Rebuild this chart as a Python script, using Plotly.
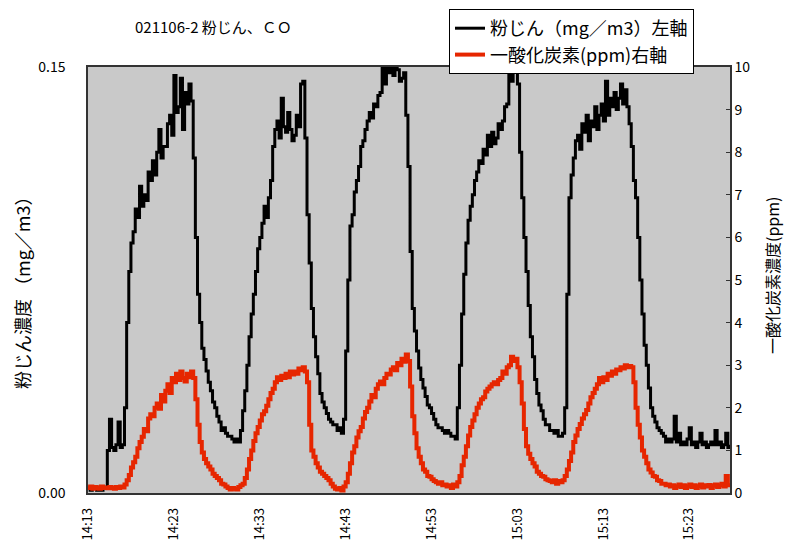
import pandas as pd
import plotly.graph_objects as go

# sampling grid: 15-second readings starting 14:13:00
start_time = "2002-11-06 14:13:00"
n_points = 300
times = pd.date_range(start=start_time, periods=n_points, freq="15s")

# dust concentration (mg/m3), left axis — 4 readings per minute
dust = [
    .002, .001, .002, .002,  .001, .002, .001, .002,  .002, .015, .026, .016,
    .015, .017, .025, .016,  .017, .030, .060, .078,  .088, .092, .100, .097,
    .108, .101, .105, .103,  .113, .110, .117, .112,  .120, .128, .118, .122,
    .122, .130, .133, .126,  .147, .134, .136, .146,  .128, .141, .137, .144,
    .138, .118, .090, .070,  .060, .051, .047, .043,  .039, .036, .032, .030,
    .027, .025, .022, .023,  .021, .020, .020, .019,  .018, .019, .018, .022,
    .029, .036, .045, .055,  .063, .070, .078, .086,  .090, .095, .101, .097,
    .104, .110, .122, .128,  .131, .125, .139, .129,  .127, .134, .128, .124,
    .126, .133, .129, .144,  .145, .125, .098, .081,  .065, .055, .048, .042,
    .035, .032, .030, .028,  .026, .025, .024, .024,  .022, .023, .021, .026,
    .050, .075, .094, .098,  .106, .110, .115, .122,  .124, .128, .131, .134,
    .132, .137, .136, .140,  .141, .150, .144, .150,  .148, .150, .147, .150,
    .149, .145, .146, .148,  .133, .115, .085, .065,  .057, .050, .044, .040,
    .037, .034, .031, .030,  .028, .026, .024, .023,  .023, .022, .021, .022,
    .021, .020, .020, .019,  .030, .045, .063, .077,  .088, .096, .101, .105,
    .110, .113, .117, .116,  .121, .119, .126, .122,  .127, .123, .125, .130,
    .128, .131, .136, .137,  .150, .145, .150, .149,  .144, .120, .104, .090,
    .078, .066, .055, .048,  .040, .035, .031, .029,  .026, .024, .024, .022,
    .022, .021, .022, .020,  .020, .021, .030, .070,  .104, .112, .118, .124,
    .126, .121, .130, .127,  .133, .124, .131, .129,  .136, .128, .133, .137,
    .131, .145, .133, .139,  .136, .141, .135, .139,  .144, .137, .142, .136,
    .130, .122, .110, .104,  .090, .075, .063, .052,  .045, .037, .030, .027,
    .025, .023, .022, .021,  .020, .018, .019, .018,  .019, .027, .018, .021,
    .017, .018, .017, .019,  .023, .017, .018, .016,  .018, .021, .017, .018,
    .016, .017, .018, .017,  .022, .017, .018, .016,  .017, .021, .016, .017,
]

# carbon monoxide (ppm), right axis — 4 readings per minute
co = [
    .12, .15, .10, .14,  .12, .10, .15, .12,  .13, .11, .14, .12,
    .10, .14, .12, .15,  .13, .20, .30, .42,  .60, .72, .85, 1.05,
    1.20, 1.32, 1.50, 1.45,  1.75, 1.85, 1.80, 2.00,  2.10, 1.98, 2.30, 2.15,
    2.40, 2.55, 2.35, 2.70,  2.60, 2.80, 2.65, 2.85,  2.70, 2.62, 2.80, 2.72,
    2.85, 2.70, 2.20, 1.60,  1.20, .95, .80, .70,  .62, .55, .45, .40,
    .35, .30, .22, .20,  .15, .12, .08, .12,  .10, .08, .14, .18,
    .22, .35, .55, .80,  1.00, 1.22, 1.40, 1.55,  1.70, 1.85, 1.92, 2.05,
    2.20, 2.35, 2.45, 2.60,  2.72, 2.65, 2.75, 2.70,  2.80, 2.72, 2.85, 2.78,
    2.85, 2.80, 2.92, 2.88,  2.95, 2.85, 2.60, 1.60,  1.00, .85, .70, .60,
    .50, .45, .40, .35,  .30, .22, .15, .10,  .08, .12, .06, .15,
    .25, .45, .70, .95,  1.10, 1.30, 1.45, 1.55,  1.75, 1.90, 2.00, 2.15,
    2.30, 2.25, 2.45, 2.55,  2.62, 2.55, 2.70, 2.80,  2.78, 2.90, 2.95, 2.88,
    3.05, 3.00, 3.15, 3.08,  3.25, 3.10, 2.50, 1.80,  1.40, 1.05, .85, .70,
    .55, .50, .40, .38,  .32, .28, .25, .22,  .25, .18, .20, .15,
    .18, .12, .20, .15,  .25, .40, .65, .85,  1.10, 1.35, 1.55, 1.70,
    1.85, 2.00, 2.10, 2.20,  2.25, 2.38, 2.45, 2.50,  2.55, 2.60, 2.55, 2.65,
    2.70, 2.85, 2.80, 2.95,  3.00, 3.20, 3.10, 3.15,  2.95, 2.60, 2.10, 1.50,
    1.10, .92, .80, .70,  .62, .50, .45, .40,  .38, .32, .30, .28,
    .25, .30, .22, .28,  .25, .30, .40, .55,  .75, .95, 1.20, 1.35,
    1.50, 1.62, 1.75, 1.85,  1.95, 2.10, 2.25, 2.35,  2.45, 2.55, 2.70, 2.60,
    2.72, 2.65, 2.80, 2.75,  2.85, 2.80, 2.90, 2.88,  2.95, 2.92, 3.00, 2.95,
    2.98, 2.95, 2.60, 2.00,  1.60, 1.30, 1.00, .85,  .70, .55, .48, .40,
    .38, .30, .28, .22,  .22, .18, .20, .15,  .18, .12, .16, .20,
    .14, .18, .12, .16,  .20, .14, .18, .12,  .16, .20, .13, .18,
    .15, .19, .12, .17,  .20, .14, .18, .22,  .15, .40, .18, .15,
]

title_text = "021106-2 粉じん、ＣＯ"
dust_name = "粉じん（mg／m3）左軸"
co_name = "一酸化炭素(ppm)右軸"
left_title = "粉じん濃度 （mg／m3）"
right_title = "一酸化炭素濃度(ppm)"
left_ticks = [0, 0.15]
left_ticktext = ["0.00", "0.15"]

FONT = "Noto Sans CJK JP"

fig = go.Figure()
fig.add_trace(go.Scatter(
    x=times, y=dust, name=dust_name, mode="lines",
    line=dict(color="#000000", width=3, shape="hv"), yaxis="y",
))
fig.add_trace(go.Scatter(
    x=times, y=co, name=co_name, mode="lines",
    line=dict(color="#e62600", width=4, shape="hv"), yaxis="y2",
))

# plot area: x 88..730, y 67..493 in a 787x546 canvas
PW, PH = 730 - 88, 493 - 67

fig.update_layout(
    width=787, height=546,
    margin=dict(l=88, r=57, t=67, b=53, autoexpand=False),
    paper_bgcolor="white",
    plot_bgcolor="#c9c9c9",
    font=dict(family=FONT, color="#000000", size=13),
    showlegend=True,
    legend=dict(
        x=(449 - 88) / PW, y=1 + (67 - 9) / PH, xanchor="left", yanchor="top",
        bgcolor="white", bordercolor="black", borderwidth=1,
        font=dict(family=FONT, size=18),
        tracegroupgap=0, itemwidth=30,
    ),
    xaxis=dict(
        type="date",
        range=["2002-11-06 14:13:00", "2002-11-06 15:27:45"],
        tick0="2002-11-06 14:13:00", dtick=600000,
        tickformat="%H:%M", tickangle=-90,
        showgrid=False, zeroline=False, automargin=False,
        showline=True, linecolor="#333333", linewidth=1.5, mirror=True,
        ticks="outside", ticklen=8, tickcolor="rgba(0,0,0,0)",
        tickfont=dict(family=FONT, size=13),
    ),
    yaxis=dict(
        range=[0, 0.15], tickvals=left_ticks, ticktext=left_ticktext,
        showgrid=False, zeroline=False, automargin=False,
        showline=True, linecolor="#333333", linewidth=1.5,
        ticks="outside", ticklen=18, tickcolor="rgba(0,0,0,0)",
        tickfont=dict(family=FONT, size=14),
    ),
    yaxis2=dict(
        range=[0, 10], dtick=1, overlaying="y", side="right",
        showgrid=False, zeroline=False, automargin=False,
        showline=True, linecolor="#333333", linewidth=1.5,
        ticks="inside", ticklen=4, tickcolor="#333333",
        tickfont=dict(family=FONT, size=14),
    ),
    annotations=[
        dict(
            text=title_text, xref="paper", yref="paper",
            x=(133 - 88) / PW, y=1 + (67 - 27) / PH, xanchor="left", yanchor="middle",
            showarrow=False, font=dict(family=FONT, size=15),
        ),
        dict(
            text=left_title, xref="paper", yref="paper", textangle=-90,
            x=(22 - 88) / PW, y=(493 - 288) / PH, xanchor="center", yanchor="middle",
            showarrow=False, font=dict(family=FONT, size=18),
        ),
        dict(
            text=right_title, xref="paper", yref="paper", textangle=-90,
            x=(772 - 88) / PW, y=(493 - 275) / PH, xanchor="center", yanchor="middle",
            showarrow=False, font=dict(family=FONT, size=16),
        ),
    ],
)

fig.write_html(
    "out.html",
    config={"displayModeBar": False},
    post_script="document.body.style.margin='0';document.body.style.padding='0';",
)
